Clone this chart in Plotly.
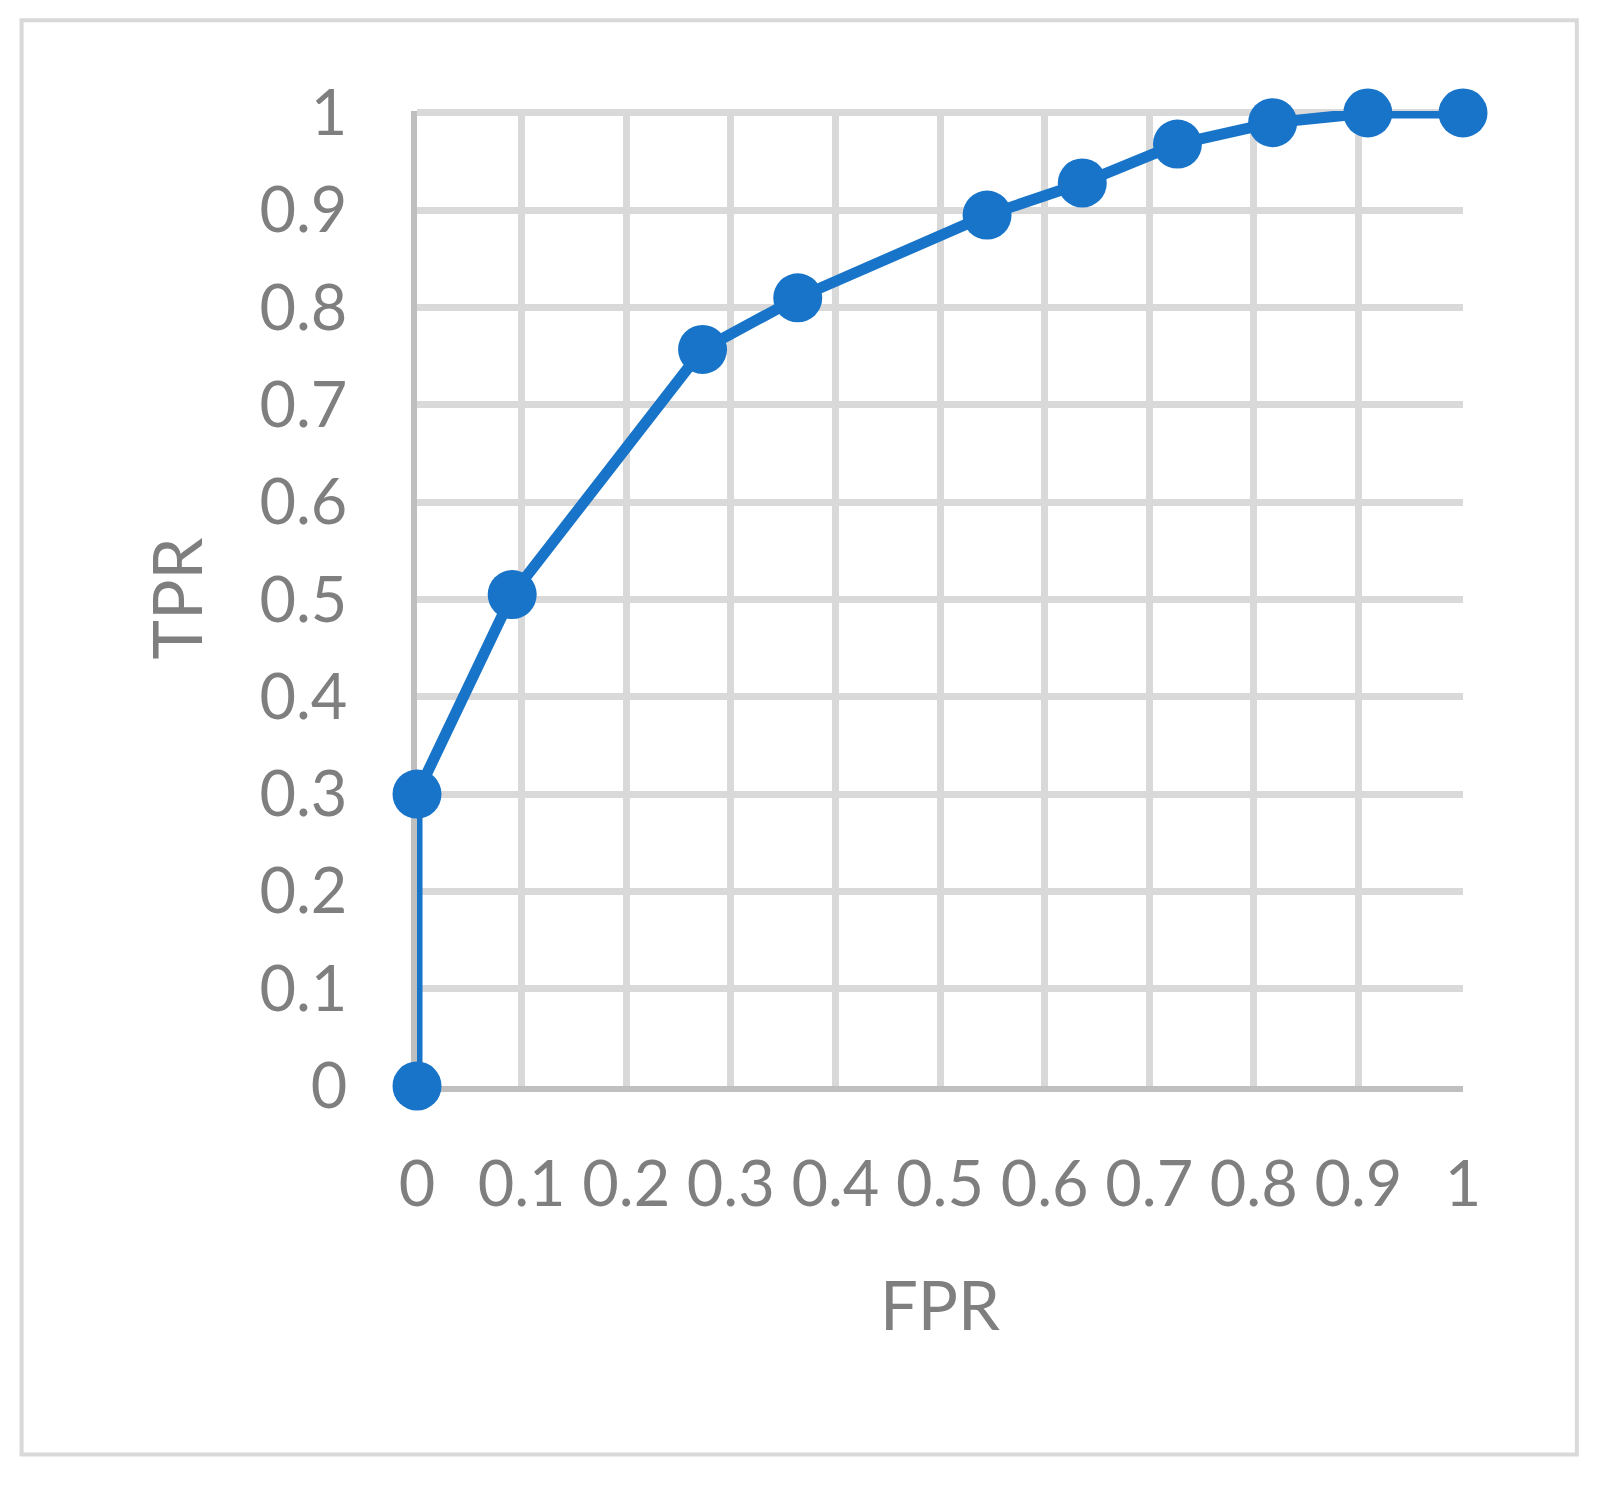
import plotly.graph_objects as go

# ROC curve points
fpr = [0, 0, 0.091, 0.273, 0.364, 0.545, 0.636, 0.727, 0.818, 0.909, 1.0]
tpr = [0, 0.3, 0.505, 0.757, 0.81, 0.895, 0.928, 0.968, 0.99, 1.0, 1.0]

tick_vals = [0, 0.1, 0.2, 0.3, 0.4, 0.5, 0.6, 0.7, 0.8, 0.9, 1]
tick_text = ['0', '0.1', '0.2', '0.3', '0.4', '0.5', '0.6', '0.7', '0.8', '0.9', '1']

BLUE = '#1874C8'
GRID = '#D9D9D9'
AXIS = '#BFBFBF'
TEXT = '#7F7F7F'
FONT = 'Lato, Open Sans, sans-serif'

fig = go.Figure()

fig.add_trace(go.Scatter(
    x=fpr, y=tpr, mode='lines+markers',
    line=dict(color=BLUE, width=11),
    marker=dict(color=BLUE, size=49),
    cliponaxis=False, showlegend=False,
))

# outer chart border
fig.add_shape(type='rect', xref='paper', yref='paper',
              x0=-0.378, x1=1.1088, y0=-0.378, y1=1.093,
              line=dict(color=GRID, width=4), layer='below')

fig.update_xaxes(
    range=[0, 1], tickvals=tick_vals, ticktext=tick_text,
    showgrid=True, gridcolor=GRID, gridwidth=6.5,
    showline=True, linecolor=AXIS, linewidth=6,
    zeroline=False, ticks='', ticklabelstandoff=38,
    layer='below traces',
    tickfont=dict(family=FONT, size=63, color=TEXT),
    title=dict(text='FPR', standoff=68,
               font=dict(family=FONT, size=67, color=TEXT)),
)
fig.update_yaxes(
    range=[0, 1.002], tickvals=tick_vals, ticktext=tick_text,
    showgrid=True, gridcolor=GRID, gridwidth=6.5,
    showline=True, linecolor=AXIS, linewidth=6,
    zeroline=False, ticks='', ticklabelstandoff=51,
    layer='below traces',
    tickfont=dict(family=FONT, size=63, color=TEXT),
    title=dict(text='TPR', standoff=37,
               font=dict(family=FONT, size=67, color=TEXT)),
)

fig.update_layout(
    width=1606, height=1493,
    margin=dict(l=409, r=151, t=103, b=415),
    plot_bgcolor='white', paper_bgcolor='white',
)

fig.write_html("out.html")
